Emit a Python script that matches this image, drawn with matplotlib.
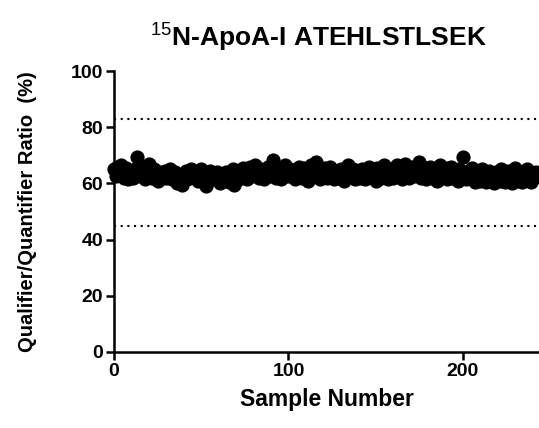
import numpy as np
import matplotlib
matplotlib.use('Agg')
import matplotlib.pyplot as plt

plt.rcParams['font.family'] = 'Liberation Sans'
plt.rcParams['mathtext.fontset'] = 'custom'
plt.rcParams['mathtext.rm'] = 'Liberation Sans'
plt.rcParams['mathtext.bf'] = 'Liberation Sans:bold'

# Qualifier/quantifier ratio per sample
ratios = [
    65.0, 62.5, 66.0, 63.0, 66.5, 64.0, 62.0, 65.5, 61.5, 64.0, 63.5, 62.0, 65.0, 69.5, 64.0, 62.5, 63.0, 66.0, 61.5, 64.5,
    67.0, 63.0, 62.0, 65.0, 63.5, 61.0, 64.0, 62.5, 63.0, 64.5, 62.0, 63.5, 65.0, 61.5, 62.5, 64.0, 60.0, 63.0, 62.5, 59.5,
    63.0, 64.5, 61.5, 62.0, 65.0, 63.0, 62.5, 64.0, 61.0, 63.5, 65.0, 62.0, 60.5, 59.0, 63.0, 64.5, 62.0, 61.5, 63.0, 64.0,
    62.5, 60.0, 63.5, 61.5, 64.0, 62.0, 60.5, 63.0, 65.0, 59.5, 61.0, 63.5, 64.5, 62.0, 65.5, 63.0, 61.5, 64.0, 66.0, 62.5,
    64.0, 66.5, 63.0, 62.0, 65.0, 63.5, 61.5, 64.5, 66.0, 63.0, 62.5, 68.5, 64.0, 62.0, 65.5, 63.0, 61.5, 64.0, 66.5, 63.5,
    62.5, 65.0, 63.0, 64.5, 61.5, 63.0, 66.0, 64.0, 62.0, 65.5, 63.5, 61.0, 64.0, 66.5, 62.5, 64.0, 67.5, 63.0, 61.5, 64.5,
    63.0, 65.5, 62.0, 64.0, 66.0, 63.5, 61.5, 64.5, 63.0, 62.0, 65.0, 63.5, 61.0, 64.0, 66.5, 62.5, 63.0, 65.0, 61.5, 64.0,
    63.5, 62.0, 65.0, 64.0, 61.5, 63.0, 66.0, 62.5, 64.5, 63.0, 61.0, 65.5, 63.5, 62.0, 64.0, 66.5, 63.0, 61.5, 64.5, 65.0,
    62.0, 64.0, 66.5, 63.0, 65.5, 61.5, 64.0, 67.0, 63.5, 62.0, 65.0, 66.0, 62.5, 64.5, 63.0, 67.5, 62.0, 64.0, 65.5, 61.5,
    63.5, 66.0, 62.0, 64.5, 65.0, 61.0, 63.0, 66.5, 62.5, 64.0, 65.5, 61.5, 63.5, 66.0, 62.0, 64.5, 63.0, 61.0, 65.0, 64.0,
    69.5, 63.0, 61.5, 64.5, 62.0, 65.5, 63.0, 60.5, 64.0, 62.5, 61.0, 65.0, 63.5, 60.5, 62.0, 64.5, 61.5, 63.0, 60.0, 64.0,
    62.5, 61.0, 65.0, 63.0, 60.5, 62.0, 64.5, 61.5, 60.0, 63.0, 65.5, 61.0, 62.5, 64.0, 60.5, 63.0, 61.5, 65.0, 62.0, 60.5,
    63.5, 62.0, 64.0,
]
samples = list(range(len(ratios)))

# acceptance limits (dotted lines)
limits = [83.0, 45.0]

x_ticks = [0, 100, 200]
y_ticks = [0, 20, 40, 60, 80, 100]

fig = plt.figure(figsize=(5.39, 4.28), dpi=100)
ax = fig.add_axes([0.2115, 0.1776, 0.7885, 0.6565])

for lim in limits:
    ax.axhline(lim, color='black', linestyle=(0, (1, 2.2)), linewidth=1.5)

ax.scatter(samples, ratios, s=85, color='black', zorder=3, clip_on=False)

ax.set_xlim(0, 243.6)
ax.set_ylim(0, 100)
ax.set_xticks(x_ticks)
ax.set_yticks(y_ticks)

for side in ['top', 'right']:
    ax.spines[side].set_visible(False)
for side in ['left', 'bottom']:
    ax.spines[side].set_linewidth(1.8)

ax.tick_params(width=1.8, length=6, labelsize=14, pad=2)
for lbl in ax.get_xticklabels() + ax.get_yticklabels():
    lbl.set_fontweight('bold')

ax.set_xlabel('Sample Number', fontsize=16.5, fontweight='bold', labelpad=6)
ax.set_ylabel('Qualifier/Quantifier Ratio  (%)', fontsize=14.5, fontweight='bold', labelpad=24)

fig.text(0.59, 0.893, r'$^{15}$N-ApoA-I ATEHLSTLSEK', fontsize=19, fontweight='bold',
         ha='center', va='baseline')

fig.savefig('out.png', dpi=100)
